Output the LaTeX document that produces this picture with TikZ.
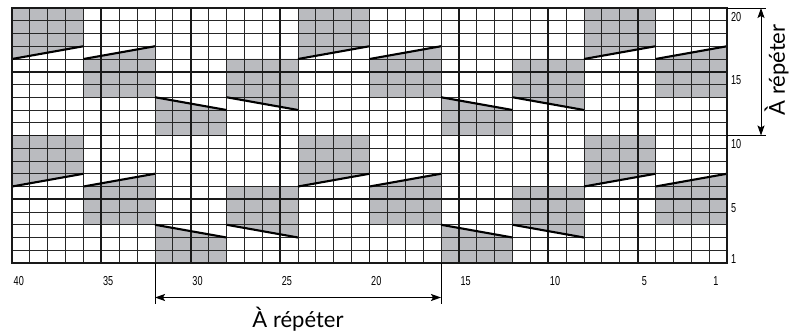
\documentclass[tikz,border=0pt]{standalone}
\usepackage{fontspec}
\setmainfont{Lato}
\newfontfamily\numfont{Liberation Sans}
\usetikzlibrary{arrows.meta}
\definecolor{cellgray}{RGB}{186,187,191}
\newcommand\numlab[1]{{\numfont\fontsize{13}{14}\selectfont\scalebox{0.7}[1]{#1}}}
\tikzset{
  gridthin/.style={line width=0.85pt, black!85},
  gridthick/.style={line width=1.9pt, black!90},
  gridborder/.style={line width=2.8pt, black!90},
  slant/.style={line width=2.1pt, black},
  shade/.style={fill=cellgray},
  dimline/.style={line width=0.7pt, black},
  dimarrow/.style={line width=1pt, black, {Stealth[length=10pt,width=7pt,inset=2pt]}-{Stealth[length=10pt,width=7pt,inset=2pt]}},
  collab/.style={inner sep=0pt, anchor=center},
  rowlab/.style={inner sep=0pt, anchor=west},
  bigtext/.style={inner sep=0pt, font=\fontsize{22}{25}\selectfont},
}
\begin{document}
\begin{tikzpicture}[x=1pt,y=-1pt]
\useasboundingbox (0,0) rectangle (791,336);
\begin{scope}[shift={(12,8)}, x=17.875pt, y=-12.75pt]
  \foreach \b in {0,...,9} {
    \pgfmathtruncatemacro\t{mod(\b,4)}
    \foreach \o in {0,10} {
      \begin{scope}[shift={(4*\b,\o)}]
        \ifcase\t\relax
          \fill[shade] (0,0) -- (4,0) -- (4,3) -- (0,4) -- cycle;
        \or
          \fill[shade] (0,4) -- (4,3) -- (4,7) -- (0,7) -- cycle;
        \or
          \fill[shade] (0,7) -- (4,8) -- (4,10) -- (0,10) -- cycle;
        \or
          \fill[shade] (0,4) -- (4,4) -- (4,8) -- (0,7) -- cycle;
        \fi
      \end{scope}
    }
  }
  \foreach \c in {0,...,40} \draw[gridthin] (\c,0) -- (\c,20);
  \foreach \j in {0,...,20} \draw[gridthin] (0,\j) -- (40,\j);
  \foreach \c in {5,10,...,35} \draw[gridthick] (\c,0) -- (\c,20);
  \foreach \j in {5,10,15} \draw[gridthick] (0,\j) -- (40,\j);
  \foreach \b in {0,...,9} {
    \pgfmathtruncatemacro\t{mod(\b,4)}
    \foreach \o in {0,10} {
      \begin{scope}[shift={(4*\b,\o)}]
        \ifnum\t<2\relax
          \draw[slant] (0,4) -- (4,3);
        \else
          \draw[slant] (0,7) -- (4,8);
        \fi
      \end{scope}
    }
  }
  \draw[gridborder] (0,0) rectangle (40,20);
  % column labels
  \foreach \k in {40,35,30,25,20,15,10,5,1}
    \node[collab] (c\k) at ({40-\k+0.5-0.12},21.45) {\numlab{\k}};
  % row labels
  \foreach \r in {20,15,10,5,1}
    \node[rowlab] (r\r) at (40.22,{20-\r+0.68}) {\numlab{\r}};
  \coordinate (gtr) at (40,0);
  \coordinate (gr10) at (40,10);
  \coordinate (gb8) at (8,20);
  \coordinate (gb24) at (24,20);
\end{scope}
% right repeat marker
\coordinate (tre) at (766,8);
\coordinate (mre) at (766,135.5);
\coordinate (vt) at (761,8);
\coordinate (vb) at (761,135.5);
\draw[dimline] (gtr) -- (tre);
\draw[dimline] (gr10) -- (mre);
\draw[dimarrow] (vt) -- (vb);
\node[bigtext, rotate=90] (vlab) at (776.5,70) {À répéter};
% bottom repeat marker
\coordinate (bl) at (155,304);
\coordinate (br) at (441,304);
\coordinate (al) at (155,297.5);
\coordinate (ar) at (441,297.5);
\draw[dimline] (gb8) -- (bl);
\draw[dimline] (gb24) -- (br);
\draw[dimarrow] (al) -- (ar);
\node[bigtext] (hlab) at (298,319.5) {À répéter};
\end{tikzpicture}
\end{document}
